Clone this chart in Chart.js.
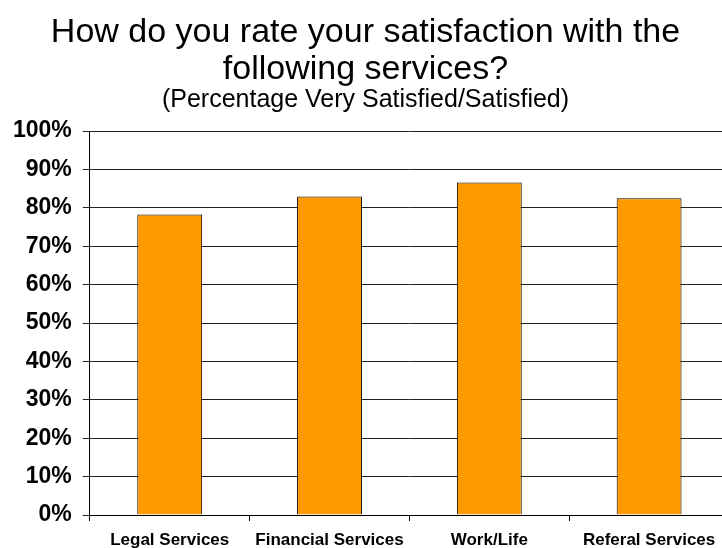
<!DOCTYPE html>
<html>
<head>
<meta charset="utf-8">
<script src="https://cdn.jsdelivr.net/npm/chart.js@4"></script>
<style>
  html, body { margin: 0; padding: 0; background: #fff; overflow: hidden; }
  #wrap { width: 722px; height: 548px; overflow: hidden; }
  canvas { display: block; }
</style>
</head>
<body>
<div id="wrap">
  <canvas id="satisfaction" width="730" height="548"></canvas>
</div>
<script>
const services = ['Legal Services', 'Financial Services', 'Work/Life', 'Referal Services'];
const satisfied = [78.3, 83.0, 86.6, 82.5];
const titleLines = ['How do you rate your satisfaction with the', 'following services?'];
const subtitleText = '(Percentage Very Satisfied/Satisfied)';

const FONT = "'Liberation Sans', Arial, Helvetica, sans-serif";

document.addEventListener('DOMContentLoaded', () => {
  const canvas = document.getElementById('satisfaction');
  const ctx = canvas.getContext('2d');

  new Chart(ctx, {
    type: 'bar',
    data: {
      labels: services,
      datasets: [{
        data: satisfied,
        backgroundColor: '#FF9900',
        borderColor: '#000',
        borderWidth: 1,
        categoryPercentage: 1,
        barPercentage: 0.406
      }]
    },
    options: {
      responsive: false,
      animation: false,
      devicePixelRatio: 1,
      layout: {
        // the plot runs a few px past the right edge of the visible page
        padding: { left: 2, right: 1, top: 0, bottom: -12 }
      },
      plugins: {
        legend: { display: false },
        tooltip: { enabled: false },
        title: {
          display: true,
          text: titleLines,
          color: '#000',
          font: { family: FONT, size: 34, weight: 'normal', lineHeight: 1.09 },
          padding: { top: 14, bottom: -1 }
        },
        subtitle: {
          display: true,
          text: subtitleText,
          color: '#000',
          font: { family: FONT, size: 25, weight: 'normal', lineHeight: 1 },
          padding: { top: 0, bottom: 19 }
        }
      },
      scales: {
        x: {
          border: { color: '#000', width: 1 },
          grid: {
            offset: true,
            drawOnChartArea: false,
            color: '#000',
            tickLength: 6
          },
          ticks: {
            color: '#000',
            padding: 11,
            maxRotation: 0,
            font: { family: FONT, size: 17, weight: 'bold', lineHeight: 1 }
          }
        },
        y: {
          min: 0,
          max: 100,
          border: { color: '#000', width: 1 },
          grid: {
            color: '#222',
            tickLength: 7
          },
          ticks: {
            stepSize: 10,
            color: '#000',
            padding: 11,
            font: { family: FONT, size: 23, weight: 'bold' },
            callback: v => v + '%'
          }
        }
      }
    }
  });
});
</script>
</body>
</html>
